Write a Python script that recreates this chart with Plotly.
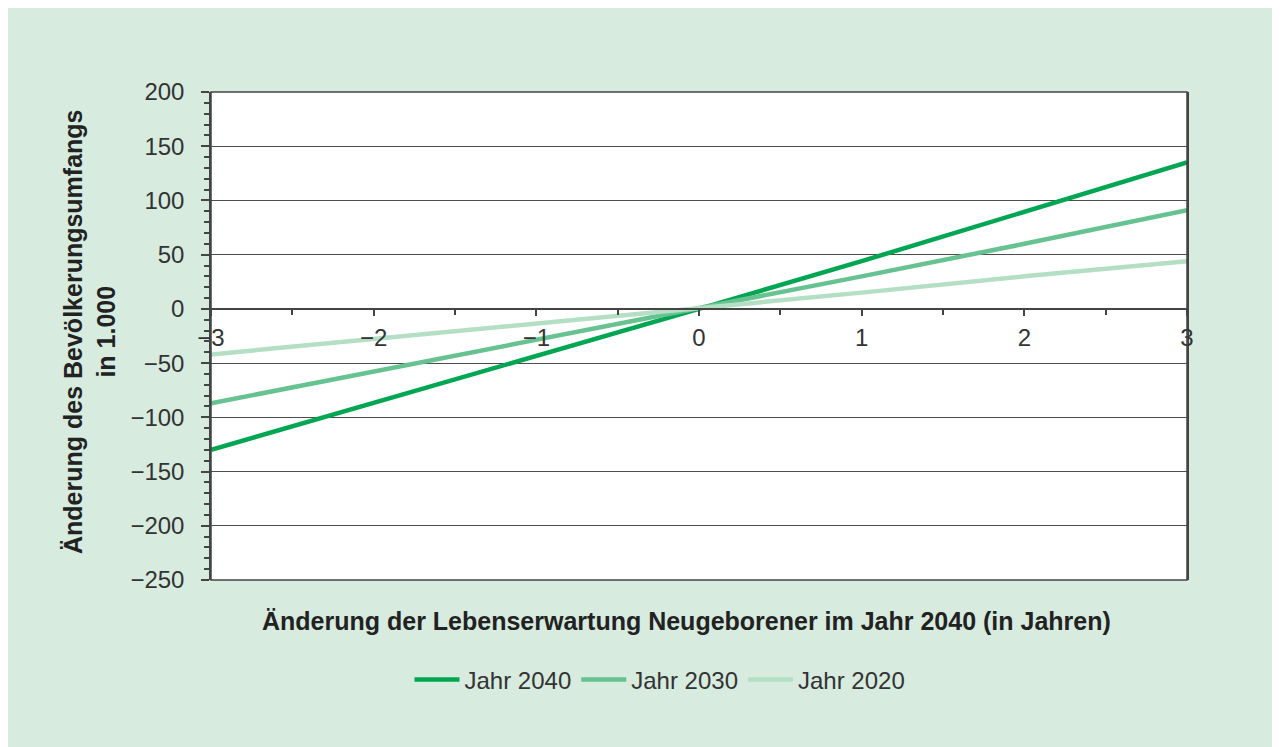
import plotly.graph_objects as go

# Änderung der Lebenserwartung (in Jahren)
years_change = [-3, -2, -1, 0, 1, 2, 3]

# Änderung des Bevölkerungsumfangs in 1.000
jahr_2040 = [-130, -87, -44, 0, 44, 89, 135]
jahr_2030 = [-87, -58, -29, 0, 30, 60, 91]
jahr_2020 = [-42, -28, -14, 0, 15, 30, 44]

series = [
    ("Jahr 2040", jahr_2040, "#00a651"),
    ("Jahr 2030", jahr_2030, "#66c290"),
    ("Jahr 2020", jahr_2020, "#b4dfc5"),
]

OFF = 8  # page margin of the browser
W, H = 1280 + OFF, 747 + OFF
ML, MT = 211 - OFF, 92 - OFF
MR, MB = W - (1187 - OFF), H - (580 - OFF)
PW, PH = W - ML - MR, H - MT - MB
BG = "#d7ebdf"
FONT = "Liberation Sans"
AX = "#444444"


def px_x(px):
    # screen pixel -> paper fraction
    return (px - OFF - ML) / PW


def px_y(py):
    return (H - MB - (py - OFF)) / PH


fig = go.Figure()
for name, vals, col in series:
    fig.add_trace(go.Scatter(
        x=years_change, y=vals, name=name, mode="lines",
        line=dict(color=col, width=4.5),
    ))

fig.update_layout(
    width=W, height=H,
    margin=dict(l=ML, r=MR, t=MT, b=MB),
    paper_bgcolor=BG, plot_bgcolor="white",
    font=dict(family=FONT, color="#333333", size=24),
    showlegend=True,
    legend=dict(orientation="h", x=px_x(660), xanchor="center", y=px_y(680), yanchor="middle",
                font=dict(size=24, color="#333333"), itemwidth=45,
                bgcolor="rgba(0,0,0,0)"),
    xaxis=dict(
        range=[-3, 3], anchor="free", position=5 / 9,
        showgrid=False, zeroline=False,
        showline=True, linecolor=AX, linewidth=1.5,
        ticks="outside", ticklen=6, tickcolor=AX, tickwidth=1.5,
        dtick=1, tick0=0,
        minor=dict(dtick=0.5, ticks="outside", ticklen=5, tickcolor=AX, showgrid=False),
        tickfont=dict(size=24, color="#333333"),
        ticklabelstandoff=2,
    ),
    yaxis=dict(
        range=[-250, 200], dtick=50, tick0=0,
        showgrid=True, gridcolor="#4d4d4d", gridwidth=1,
        zeroline=False,
        showline=True, mirror=True, linecolor=AX, linewidth=1.5,
        ticks="outside", ticklen=8, tickcolor=AX, tickwidth=1.5,
        minor=dict(dtick=10, ticks="outside", ticklen=5, tickcolor=AX, showgrid=False),
        tickfont=dict(size=24, color="#333333"),
        ticklabelstandoff=12,
    ),
    shapes=[
        dict(type="rect", xref="paper", yref="paper", x0=0, x1=1, y0=0, y1=1,
             line=dict(color=AX, width=1.5), layer="above"),
    ],
    annotations=[
        dict(text="<b>Änderung der Lebenserwartung Neugeborener im Jahr 2040 (in Jahren)</b>",
             xref="paper", yref="paper", x=px_x(686), y=px_y(621),
             xanchor="center", yanchor="middle", showarrow=False,
             font=dict(size=25, color="#222222")),
        dict(text="<b>Änderung des Bevölkerungsumfangs<br>in 1.000</b>",
             xref="paper", yref="paper", x=px_x(89), y=px_y(332),
             xanchor="center", yanchor="middle", showarrow=False, textangle=-90,
             font=dict(size=25, color="#222222")),
    ],
)

fig.write_html("out.html")
